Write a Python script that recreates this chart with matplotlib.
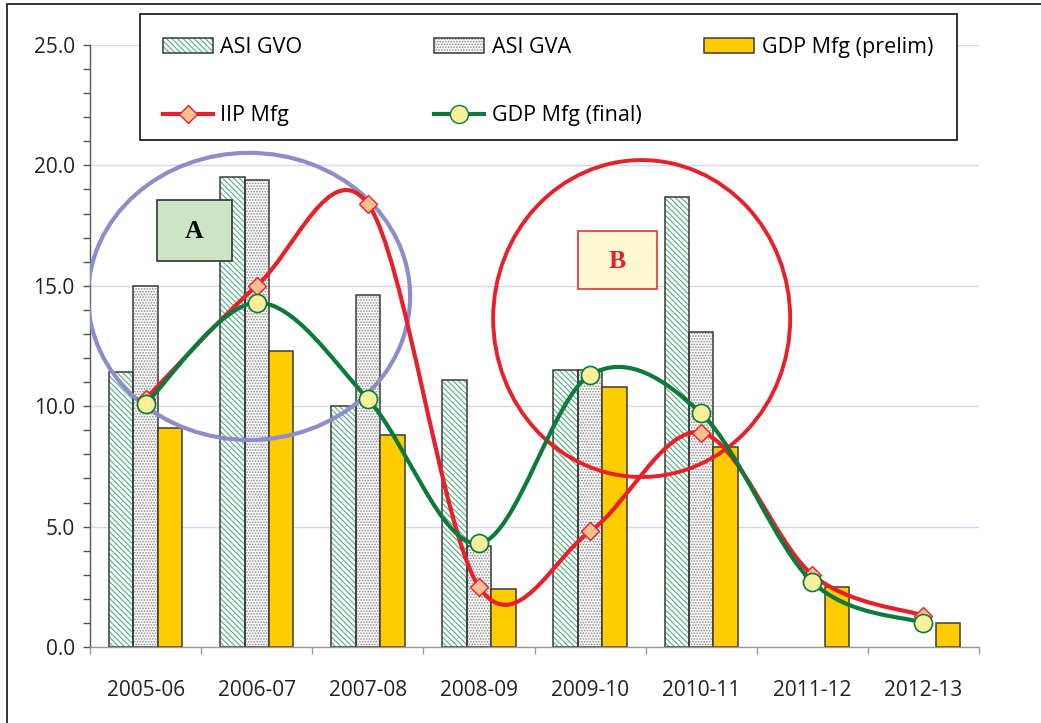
import numpy as np
import matplotlib
matplotlib.use("Agg")
import matplotlib.pyplot as plt
from matplotlib.path import Path
from matplotlib.patches import PathPatch, Ellipse, Rectangle
from matplotlib.lines import Line2D
from matplotlib.ticker import MultipleLocator, FormatStrFormatter

plt.rcParams['font.family'] = ['Open Sans', 'DejaVu Sans']
plt.rcParams['hatch.linewidth'] = 0.8

years = ['2005-06', '2006-07', '2007-08', '2008-09', '2009-10', '2010-11', '2011-12', '2012-13']
asi_gvo = [11.4, 19.5, 10.0, 11.1, 11.5, 18.7, np.nan, np.nan]
asi_gva = [15.0, 19.4, 14.6, 4.2, 11.5, 13.1, np.nan, np.nan]
gdp_prelim = [9.1, 12.3, 8.8, 2.4, 10.8, 8.3, 2.5, 1.0]
iip_mfg = [10.3, 15.0, 18.4, 2.5, 4.8, 8.9, 3.0, 1.3]
gdp_final = [10.1, 14.3, 10.3, 4.3, 11.3, 9.7, 2.7, 1.0]

RED = '#e8202a'
GREEN = '#0b7a3b'
EDGE = '#3a3a3a'


def smooth_path(xs, ys):
    # bezier segments with 1/6 tangents (spreadsheet style smoothed line)
    pts = np.column_stack([xs, ys]).astype(float)
    n = len(pts)
    verts = [pts[0]]
    codes = [Path.MOVETO]
    for i in range(n - 1):
        p0 = pts[i - 1] if i > 0 else pts[i]
        p1, p2 = pts[i], pts[i + 1]
        p3 = pts[i + 2] if i + 2 < n else pts[i + 1]
        verts += [p1 + (p2 - p0) / 6.0, p2 - (p3 - p1) / 6.0, p2]
        codes += [Path.CURVE4] * 3
    return Path(verts, codes)


fig = plt.figure(figsize=(10.41, 7.23), dpi=100)
ax = fig.add_axes([0.0865, 0.1051, 0.854, 0.8327])

x = np.arange(len(years))
w = 0.22

# bars: hatch layer first, then the dark outline on top
gvo_fill = ax.bar(x - w, asi_gvo, w, facecolor='white', edgecolor='#4fb07c',
                  hatch='\\\\\\\\\\\\', linewidth=0, zorder=2)
gvo_edge = ax.bar(x - w, asi_gvo, w, fill=False, edgecolor=EDGE, linewidth=1.1, zorder=2.1)
gva_fill = ax.bar(x, asi_gva, w, facecolor='#fafafa', edgecolor='#8e8e8e',
                  hatch='......', linewidth=0, zorder=2)
gva_edge = ax.bar(x, asi_gva, w, fill=False, edgecolor=EDGE, linewidth=1.1, zorder=2.1)
prelim = ax.bar(x + w, gdp_prelim, w, facecolor='#ffcc00', edgecolor=EDGE,
                linewidth=1.1, zorder=2.1)

# highlight circles
ax.add_patch(Ellipse((0.931, 14.56), 2.898, 11.92, fill=False,
                     edgecolor='#8d8dc9', linewidth=3.0, zorder=3))
ax.add_patch(Ellipse((4.464, 13.64), 2.673, 13.16, fill=False,
                     edgecolor=RED, linewidth=2.8, zorder=3))

# smoothed lines
ax.add_patch(PathPatch(smooth_path(x, iip_mfg), fill=False, edgecolor=RED,
                       linewidth=3.0, zorder=4, capstyle='round'))
ax.plot(x, iip_mfg, linestyle='none', marker='D', markersize=9.5,
        markerfacecolor='#fbc08f', markeredgecolor=RED, markeredgewidth=1.0, zorder=4.5)
ax.add_patch(PathPatch(smooth_path(x, gdp_final), fill=False, edgecolor=GREEN,
                       linewidth=3.0, zorder=5, capstyle='round'))
ax.plot(x, gdp_final, linestyle='none', marker='o', markersize=13,
        markerfacecolor='#f8f09a', markeredgecolor=GREEN, markeredgewidth=1.2, zorder=5.5)

# labelled boxes
ax.add_patch(Rectangle((0.103, 16.03), 0.675, 2.53, facecolor='#cce5c5',
                       edgecolor='#333333', linewidth=1.2, zorder=6))
ax.text(0.44, 17.25, 'A', ha='center', va='center', fontsize=18.5, fontweight='bold',
        family='Liberation Serif', color='black', zorder=7)
ax.add_patch(Rectangle((3.89, 14.87), 0.716, 2.41, facecolor='#fbf8d2',
                       edgecolor='#e8303a', linewidth=1.2, zorder=6))
ax.text(4.248, 16.02, 'B', ha='center', va='center', fontsize=18.5, fontweight='bold',
        family='Liberation Serif', color=RED, zorder=7)

# axes styling
ax.set_xlim(-0.5, 7.5)
ax.set_ylim(0, 25)
ax.yaxis.set_major_locator(MultipleLocator(5))
ax.yaxis.set_minor_locator(MultipleLocator(1))
ax.yaxis.set_major_formatter(FormatStrFormatter('%.1f'))
ax.set_xticks(x)
ax.set_xticklabels(years)
ax.set_xticks(np.arange(-0.5, 8.0, 1.0), minor=True)
ax.tick_params(axis='x', which='major', length=0, pad=24, labelsize=15, colors='#222222')
ax.tick_params(axis='x', which='minor', length=5, width=1.0, color='#999999')
ax.tick_params(axis='y', which='both', length=5, width=1.0, color='#555555')
ax.tick_params(axis='y', which='major', labelsize=15, pad=6, labelcolor='#222222')
ax.yaxis.grid(True, color='#d9d6ef', linewidth=1.0)
ax.set_axisbelow(True)
for s in ['top', 'right']:
    ax.spines[s].set_visible(False)
ax.spines['left'].set_color('#555555')
ax.spines['bottom'].set_color('#999999')
ax.spines['left'].set_linewidth(1.0)
ax.spines['bottom'].set_linewidth(1.0)

# outer frame and legend frame
fig.add_artist(Rectangle((7 / 1041, -0.1), 1.2, 1.1 - 4 / 723, transform=fig.transFigure,
                         fill=False, edgecolor='#111111', linewidth=1.2, zorder=3))
fig.add_artist(Rectangle((0.1345, 0.8064), 0.7848, 0.1743, transform=fig.transFigure,
                         facecolor='white', edgecolor='#222222', linewidth=1.3, zorder=4))

h_iip = Line2D([], [], color=RED, linewidth=3.0, marker='D', markersize=9.5,
               markerfacecolor='#fbc08f', markeredgecolor=RED)
h_final = Line2D([], [], color=GREEN, linewidth=3.0, marker='o', markersize=13,
                 markerfacecolor='#f8f09a', markeredgecolor=GREEN)

leg_kw = dict(loc='upper left', frameon=False, borderpad=0, borderaxespad=0,
              handlelength=2.32, handleheight=0.65, handletextpad=0.35,
              labelspacing=2.2, fontsize=15.5)
top = 1 - 37 / 723
legs = [
    fig.legend([(gvo_fill, gvo_edge), h_iip], ['ASI GVO', 'IIP Mfg'],
               bbox_to_anchor=(0.1566, top), **leg_kw),
    fig.legend([(gva_fill, gva_edge), h_final], ['ASI GVA', 'GDP Mfg (final)'],
               bbox_to_anchor=(0.417, top), **leg_kw),
    fig.legend([prelim], ['GDP Mfg (prelim)'],
               bbox_to_anchor=(0.6763, top), **leg_kw),
]
for lg in legs:
    lg.set_zorder(6)

fig.savefig('out.png', dpi=100)
